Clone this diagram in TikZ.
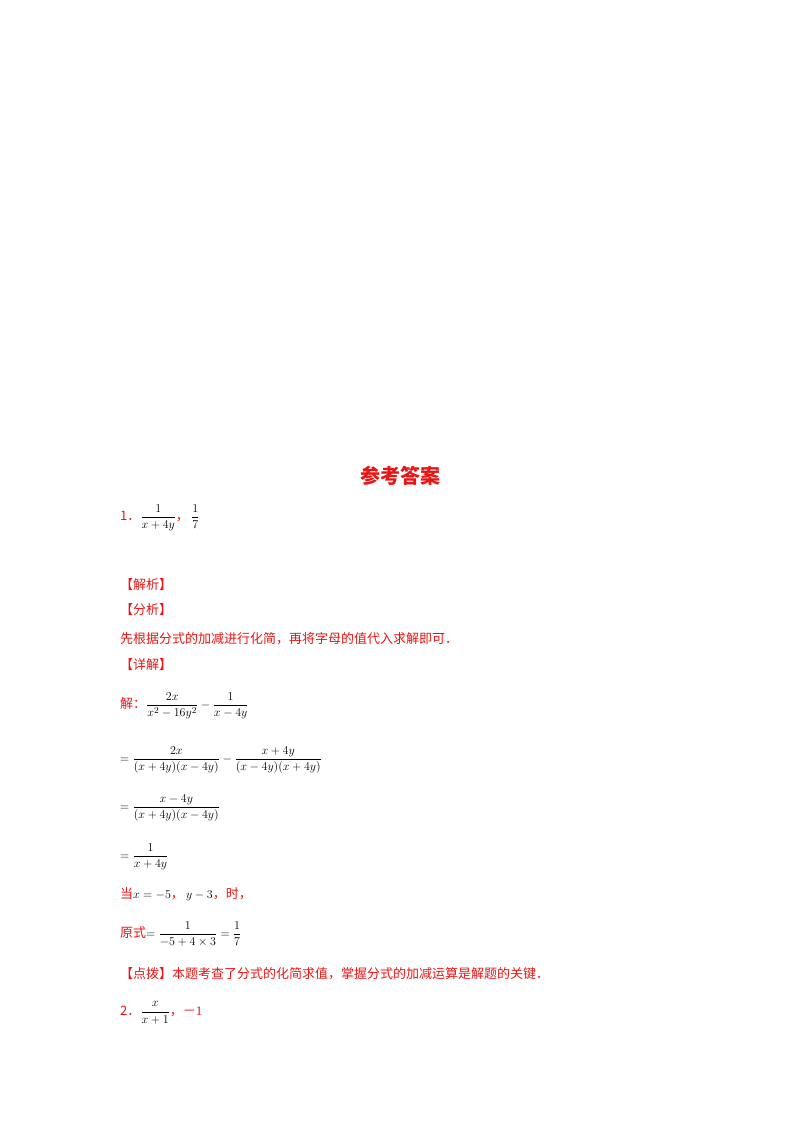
\documentclass[tikz,border=0pt]{standalone}
\usepackage{amsmath}
\usepackage{fontspec}
\setmainfont{Liberation Serif}
\newfontfamily\cjk{Noto Sans CJK SC}
\definecolor{ansred}{RGB}{235,20,20}
\tikzset{ln/.style={anchor=west,inner sep=0pt,font=\fontsize{13}{15}\selectfont}}
\newcommand{\R}[1]{\textcolor{ansred}{\cjk #1}}
\begin{document}
\begin{tikzpicture}[x=1pt,y=-1pt]
\useasboundingbox (0,0) rectangle (800,1132);
\node[anchor=center,font=\fontsize{20}{24}\selectfont\bfseries\cjk,text=ansred] (title) at (400,476) {参考答案};
\node[ln] (a1) at (120,518) {\R{1．}$\dfrac{1}{x+4y}$\R{，}\,$\dfrac{1}{7}$};
\node[ln] (jx) at (120,585) {\R{【解析】}};
\node[ln] (fx) at (120,610) {\R{【分析】}};
\node[ln] (fxt) at (120,639) {\R{先根据分式的加减进行化简，再将字母的值代入求解即可．}};
\node[ln] (xj) at (120,665) {\R{【详解】}};
\node[ln] (s1) at (120,706) {\R{解：}$\dfrac{2x}{x^2-16y^2}-\dfrac{1}{x-4y}$};
\node[ln] (s2) at (120,760) {$=\dfrac{2x}{(x+4y)(x-4y)}-\dfrac{x+4y}{(x-4y)(x+4y)}$};
\node[ln] (s3) at (120,808) {$=\dfrac{x-4y}{(x+4y)(x-4y)}$};
\node[ln] (s4) at (120,857) {$=\dfrac{1}{x+4y}$};
\node[ln] (s5) at (120,894) {\R{当}$x=-5$\R{，}\,$y-3$\R{，时，}};
\node[ln] (s6) at (120,934) {\R{原式}$=\dfrac{1}{-5+4\times3}=\dfrac{1}{7}$};
\node[ln] (dp) at (120,974) {\R{【点拨】本题考查了分式的化简求值，掌握分式的加减运算是解题的关键．}};
\node[ln] (a2) at (120,1013) {\R{2．}$\dfrac{x}{x+1}$\R{，－}\textcolor{ansred}{1}};
\end{tikzpicture}
\end{document}
